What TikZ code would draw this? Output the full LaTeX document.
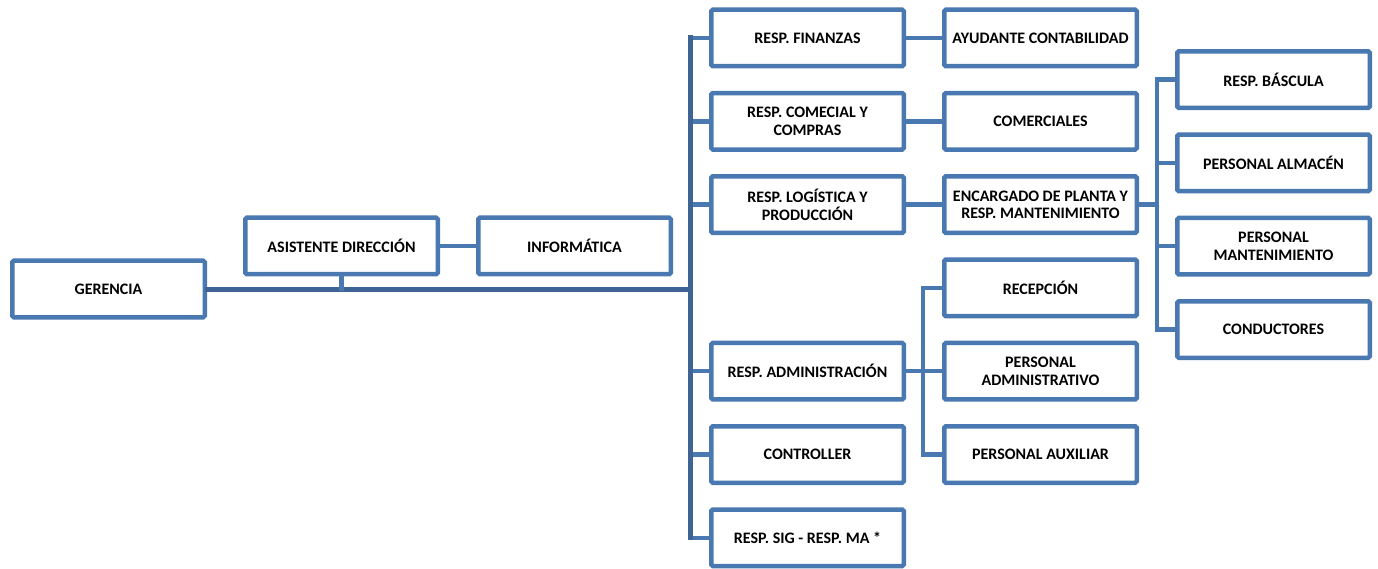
\documentclass[tikz,border=0pt]{standalone}
\usepackage{fontspec}
\setmainfont{Carlito}
\usetikzlibrary{calc,positioning}
\definecolor{boxblue}{RGB}{74,120,176}
\definecolor{lineblue}{RGB}{62,100,150}

\begin{document}
\begin{tikzpicture}[x=1pt,y=1pt,node distance=22.3pt and 36pt]
	\tikzstyle{block} = [draw=boxblue, line width=4.5pt, rounded corners=1.5pt, fill=white, minimum width=192.5pt, minimum height=56.5pt, align=center, font=\fontsize{16}{17.5}\selectfont\bfseries]
	\tikzstyle{link} = [draw=boxblue, line width=4.5pt, line cap=rect]
	\tikzstyle{trunk} = [draw=lineblue, line width=5pt, line cap=rect]
	\useasboundingbox (0,0) rectangle (1378,-569);
	
	\node [block] (ger) at (108.5,-289) {GERENCIA};
	\node [block, right=of ger, yshift=43pt] (asis) {ASISTENTE DIRECCIÓN};
	\node [block, right=of asis] (info) {INFORMÁTICA};
	
	\node [block, right=of info, yshift=208pt] (fin) {RESP. FINANZAS};
	\node [block, below=of fin] (com) {RESP. COMECIAL Y\\COMPRAS};
	\node [block, below=of com] (log) {RESP. LOGÍSTICA Y\\PRODUCCIÓN};
	\node [block, below=105.6pt of log] (adm) {RESP. ADMINISTRACIÓN};
	\node [block, below=of adm] (ctrl) {CONTROLLER};
	\node [block, below=of ctrl] (sig) {RESP. SIG - RESP. MA *};
	
	\node [block, right=of fin] (ayu) {AYUDANTE CONTABILIDAD};
	\node [block, right=of com] (coms) {COMERCIALES};
	\node [block, right=of log] (enc) {ENCARGADO DE PLANTA Y\\RESP. MANTENIMIENTO};
	\node [block, below=of enc] (rec) {RECEPCIÓN};
	\node [block, below=of rec] (padm) {PERSONAL\\ADMINISTRATIVO};
	\node [block, below=of padm] (paux) {PERSONAL AUXILIAR};
	
	\node [block, right=of enc, yshift=125pt] (bas) {RESP. BÁSCULA};
	\node [block, below=of bas] (alm) {PERSONAL ALMACÉN};
	\node [block, below=of alm] (pman) {PERSONAL\\MANTENIMIENTO};
	\node [block, below=of pman] (cond) {CONDUCTORES};
	
	\draw [link] (fin.west) -- ++(-18.5,0) coordinate (t1);
	\foreach \n in {com,log,adm,ctrl,sig}
		\draw [link] (\n.west) -- (\n.west -| t1);
	\draw [trunk] (t1) -- (t1 |- sig.west);
	\draw [trunk] (ger.east) -- (ger.east -| t1);
	\draw [link] (asis.south) -- (asis.south |- ger.east);
	\draw [link] (asis) -- (info);
	
	\draw [link] (fin) -- (ayu);
	\draw [link] (com) -- (coms);
	\draw [link] (log) -- (enc);
	
	\draw [link] (adm.east) -- ++(17,0) coordinate (t2);
	\draw [link] (rec.west -| t2) -- (paux.west -| t2);
	\foreach \n in {rec,padm,paux}
		\draw [link] (\n.west) -- (\n.west -| t2);
	
	\draw [link] (enc.east) -- ++(18,0) coordinate (t3);
	\draw [link] (bas.west -| t3) -- (cond.west -| t3);
	\foreach \n in {bas,alm,pman,cond}
		\draw [link] (\n.west) -- (\n.west -| t3);
	
\end{tikzpicture}
\end{document}
